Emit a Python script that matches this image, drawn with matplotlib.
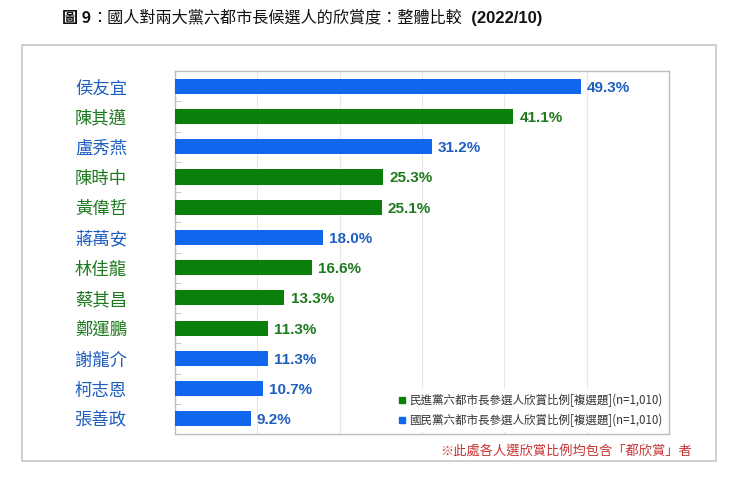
import matplotlib
matplotlib.use('Agg')
import matplotlib.pyplot as plt
from matplotlib.lines import Line2D
from matplotlib.patches import Rectangle

plt.rcParams['font.family'] = ['Noto Sans CJK TC', 'DejaVu Sans']

names = ['侯友宜', '陳其邁', '盧秀燕', '陳時中', '黃偉哲', '蔣萬安',
         '林佳龍', '蔡其昌', '鄭運鵬', '謝龍介', '柯志恩', '張善政']
values = [49.3, 41.1, 31.2, 25.3, 25.1, 18.0, 16.6, 13.3, 11.3, 11.3, 10.7, 9.2]
party = ['kmt', 'dpp', 'kmt', 'dpp', 'dpp', 'kmt', 'dpp', 'dpp', 'dpp', 'kmt', 'kmt', 'kmt']
legend_labels = ['民進黨六都市長參選人欣賞比例[複選題](n=1,010)',
                 '國民黨六都市長參選人欣賞比例[複選題](n=1,010)']

bar_color = {'kmt': '#1166EE', 'dpp': '#0A800A'}
text_color = {'kmt': '#1F5FBF', 'dpp': '#1E7A1E'}

fig = plt.figure(figsize=(7.5, 4.93), dpi=100)
fig.patch.set_facecolor('white')

# outer frame
fig.patches.append(Rectangle((0.0293, 0.0649), 0.9253, 0.8438, transform=fig.transFigure,
                             fill=False, edgecolor='#C8C8C8', linewidth=1.2))

ax = fig.add_axes([0.2333, 0.1197, 0.6587, 0.736])
y = list(range(len(names)))
ax.barh(y, values, height=0.5, color=[bar_color[p] for p in party], zorder=3)
ax.set_ylim(len(names) - 0.5, -0.5)
ax.set_xlim(0, 60)
ax.set_xticks(range(0, 61, 10))
ax.xaxis.grid(True, color='#E6E6E6', linewidth=0.8, zorder=0)
ax.tick_params(axis='x', length=0, labelbottom=False)

ax.set_yticks(y)
ax.set_yticklabels(names, fontsize=12.5, fontweight='medium')
ax.tick_params(axis='y', length=0, pad=34.5)
for lab, p in zip(ax.get_yticklabels(), party):
    lab.set_color(text_color[p])
ax.set_yticks([i + 0.5 for i in y[:-1]], minor=True)
ax.tick_params(axis='y', which='minor', direction='in', length=4, color='#BBBBBB')

for sp in ax.spines.values():
    sp.set_color('#BDBDBD')
    sp.set_linewidth(1.0)

for yi, v, p in zip(y, values, party):
    ax.text(v + 0.75, yi + 0.05, f'{v:.1f}%', va='center', ha='left', fontsize=11,
            fontweight='bold', color=text_color[p], family=['Liberation Sans'], zorder=4)

handles = [Line2D([], [], marker='s', linestyle='none', color=bar_color['dpp'], markersize=5),
           Line2D([], [], marker='s', linestyle='none', color=bar_color['kmt'], markersize=5)]
leg = ax.legend(handles, legend_labels, loc='lower right', frameon=True, fontsize=8.3,
                handletextpad=0.2, handlelength=0.8, borderaxespad=0.2, labelspacing=0.6)
leg.get_frame().set_edgecolor('none')
leg.get_frame().set_facecolor('white')
leg.get_frame().set_alpha(1)
for t in leg.get_texts():
    t.set_color('#333333')
leg.set_zorder(5)

# title
t1 = fig.text(0.083, 0.963, '圖 9', fontsize=11.6, fontweight='bold', va='center', color='#111111')
t2 = ax.annotate('：國人對兩大黨六都市長候選人的欣賞度：整體比較', xy=(1, 0.5), xycoords=t1,
                 va='center', ha='left', fontsize=11.6, color='#111111', annotation_clip=False)
ax.annotate('  (2022/10)', xy=(1, 0.5), xycoords=t2, va='center', ha='left',
            fontsize=12, fontweight='bold', color='#111111', family=['Liberation Sans'],
            annotation_clip=False)

fig.text(0.922, 0.085, '※此處各人選欣賞比例均包含「都欣賞」者', ha='right', va='center',
         fontsize=9.5, color='#C83232')

fig.savefig('out.png', dpi=100)
